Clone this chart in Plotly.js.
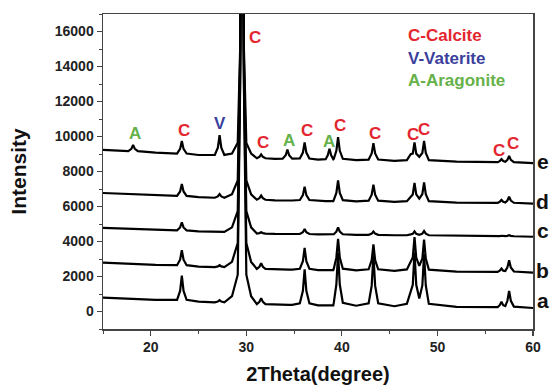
<!DOCTYPE html>
<html>
<head>
<meta charset="utf-8">
<script src="https://cdn.plot.ly/plotly-3.0.1.min.js"></script>
<style>html,body{margin:0;padding:0;background:#fff;}#chart{width:553px;height:387px;}</style>
</head>
<body>
<div id="chart"></div>
<script>
// 2Theta grid (degrees)
const twoTheta = [15, 17.0,
  17.65, 17.97, 18.15, 18.33, 18.65,
  20.5,
  22.75, 23.07, 23.25, 23.43, 23.75,
  25.0,
  26.7, 27.02, 27.2, 27.38, 27.7,
  28.5, 29.1, 29.35, 29.55, 29.75, 30.0, 30.5,
  31.1, 31.37, 31.55, 31.73, 32.0,
  33.0,
  33.8, 34.12, 34.3, 34.48, 34.8,
  35.6, 35.92, 36.1, 36.28, 36.6,
  37.5,
  38.3, 38.52, 38.7, 38.88, 39.1,
  39.15, 39.42, 39.6, 39.78, 40.1,
  41.5,
  42.8, 43.12, 43.3, 43.48, 43.8,
  45.5,
  46.8, 47.2, 47.42, 47.6, 47.78, 48.1, 48.42, 48.6, 48.78, 49.1,
  52.0,
  56.3, 56.52, 56.7, 56.88, 57.1, 57.32, 57.5, 57.68, 58.0,
  60];

// Intensities (before vertical stacking offset)
const intA = [790, 743,
  716, 714, 713, 712, 710,
  660,
  668, 1175, 2045, 1175, 668,
  560,
  526, 571, 649, 571, 526,
  875, 2105, 12765, 41465, 12765, 2105, 875,
  424, 550, 766, 550, 424,
  389,
  377, 377, 377, 377, 377,
  468, 1185, 2415, 1185, 468,
  353,
  347, 347, 347, 347, 347,
  492, 1542, 3342, 1542, 492,
  330,
  463, 1478, 3218, 1478, 463,
  300,
  443, 1188, 1528, 3388, 1528, 738, 1488, 3288, 1488, 438,
  265,
  248, 360, 552, 360, 312, 612, 1182, 612, 280,
  200];

const intB = [790, 744,
  716, 716, 716, 716, 716,
  665,
  647, 962, 1502, 962, 647,
  568,
  534, 576, 648, 576, 534,
  836, 1916, 11276, 36476, 11276, 1916, 836,
  436, 555, 759, 555, 436,
  402,
  391, 391, 391, 391, 391,
  443, 880, 1630, 880, 443,
  368,
  362, 362, 362, 362, 362,
  447, 1077, 2157, 1077, 447,
  345,
  409, 934, 1834, 934, 409,
  317,
  403, 855, 1085, 2255, 1085, 605, 1025, 2105, 1025, 395,
  283,
  261, 331, 451, 331, 311, 519, 921, 519, 285,
  220];

const intC = [780, 739,
  714, 714, 714, 714, 714,
  668,
  636, 804, 1092, 804, 636,
  581,
  545, 545, 545, 545, 545,
  809, 1739, 9799, 31499, 9799, 1739, 809,
  452, 480, 528, 480, 452,
  433,
  423, 423, 423, 423, 423,
  428, 533, 713, 533, 428,
  403,
  397, 397, 397, 397, 397,
  413, 560, 812, 560, 413,
  382,
  382, 452, 572, 452, 382,
  357,
  358, 406, 438, 576, 438, 386, 446, 596, 446, 358,
  326,
  300, 310, 328, 310, 304, 322, 358, 322, 301,
  270];

const intD = [770, 721,
  691, 691, 691, 691, 691,
  636,
  605, 857, 1289, 857, 605,
  532,
  500, 577, 709, 577, 500,
  698, 1490, 8354, 26834, 8354, 1490, 698,
  386, 473, 623, 473, 386,
  355,
  343, 343, 343, 343, 343,
  371, 651, 1131, 651, 371,
  319,
  312, 312, 312, 312, 312,
  365, 778, 1486, 778, 365,
  294,
  331, 670, 1252, 670, 331,
  264,
  306, 551, 691, 1351, 691, 451, 703, 1381, 703, 308,
  227,
  203, 266, 374, 266, 230, 338, 554, 338, 212,
  160];

const intE = [840, 779,
  760, 893, 1121, 893, 760,
  673,
  627, 893, 1349, 893, 627,
  544,
  549, 962, 1670, 962, 549,
  626, 1238, 6542, 20822, 6542, 1238, 626,
  358, 438, 576, 438, 358,
  323,
  336, 528, 858, 528, 336,
  342, 681, 1263, 681, 342,
  278,
  302, 522, 900, 522, 302,
  327, 782, 1562, 782, 327,
  247,
  282, 628, 1222, 628, 282,
  209,
  248, 594, 622, 1264, 622, 444, 658, 1354, 658, 252,
  164,
  131, 194, 302, 194, 158, 266, 482, 266, 140,
  80];

const sampleLabels = ['a', 'b', 'c', 'd', 'e'];
const offsets = [0, 2000, 4000, 6000, 8400];
const sampleLabelY = [606, 2320, 4606, 6263, 8549];

// Phase labels above peaks
const peakLabelText = ['A', 'C', 'V', 'C', 'C', 'A', 'C', 'A', 'C', 'C', 'C', 'C', 'C', 'C'];
const peakLabelX = [18.4, 23.48, 27.28, 30.87, 31.73, 34.45, 36.3, 38.63, 39.75, 43.51, 47.48, 48.63, 56.47, 57.86];
const peakLabelY = [10190, 10337, 10760, 15674, 9651, 9766, 10320, 9709, 10606, 10189, 10131, 10417, 9194, 9617];

const phaseKeys = ['C-Calcite', 'V-Vaterite', 'A-Aragonite'];

const phaseColor = {C: '#e3262f', V: '#3c3f9c', A: '#66b14a'};
const series = [intA, intB, intC, intD, intE];

const traces = series.map((vals, i) => ({
  x: twoTheta,
  y: vals.map(v => v + offsets[i]),
  type: 'scatter',
  mode: 'lines',
  line: {color: '#000', width: 2.2},
  name: sampleLabels[i],
  showlegend: false,
  hoverinfo: 'skip'
}));

const FONT = 'Liberation Sans, Arial, sans-serif';
const annotations = [];
peakLabelText.forEach((t, i) => {
  annotations.push({
    x: peakLabelX[i], y: peakLabelY[i], xref: 'x', yref: 'y',
    text: t, showarrow: false,
    font: {family: FONT, size: 17, weight: 'bold', color: phaseColor[t]},
    xanchor: 'center', yanchor: 'middle'
  });
});
sampleLabels.forEach((t, i) => {
  annotations.push({
    x: 1.0226, y: sampleLabelY[i], xref: 'paper', yref: 'y',
    text: t, showarrow: false,
    font: {family: FONT, size: 21, weight: 'bold', color: '#111'},
    xanchor: 'center', yanchor: 'middle'
  });
});
const keyY = [0.933, 0.859, 0.790];
phaseKeys.forEach((t, i) => {
  annotations.push({
    x: 0.705, y: keyY[i], xref: 'paper', yref: 'paper',
    text: t, showarrow: false,
    font: {family: FONT, size: 17, weight: 'bold', color: phaseColor[t[0]]},
    xanchor: 'left', yanchor: 'middle'
  });
});

const axisFont = {family: FONT, size: 14, weight: 'bold', color: '#222'};
const layout = {
  width: 553, height: 387,
  margin: {l: 103, r: 20, t: 14, b: 58},
  paper_bgcolor: '#fff', plot_bgcolor: '#fff',
  showlegend: false,
  xaxis: {
    range: [15, 60], dtick: 10, tick0: 0,
    ticks: 'outside', ticklen: 5, tickwidth: 1.2, tickcolor: '#444',
    minor: {dtick: 5, ticks: 'outside', ticklen: 3, tickwidth: 1, tickcolor: '#444'},
    showline: true, linecolor: '#444', linewidth: 1.5, mirror: true,
    showgrid: false, zeroline: false,
    tickfont: axisFont,
    title: {text: '2Theta(degree)', font: {family: FONT, size: 20, weight: 'bold', color: '#111'}, standoff: 12}
  },
  yaxis: {
    range: [-1000, 17000], dtick: 2000, tick0: 0, tickformat: 'd',
    ticks: 'outside', ticklen: 5, tickwidth: 1.2, tickcolor: '#444',
    minor: {dtick: 1000, ticks: 'outside', ticklen: 3, tickwidth: 1, tickcolor: '#444'},
    showline: true, linecolor: '#444', linewidth: 1.5, mirror: true,
    showgrid: false, zeroline: false,
    tickfont: axisFont,
    title: {text: 'Intensity', font: {family: FONT, size: 21, weight: 'bold', color: '#111'}, standoff: 22}
  },
  annotations: annotations
};

Plotly.newPlot('chart', traces, layout, {displayModeBar: false, staticPlot: true});
</script>
</body>
</html>
